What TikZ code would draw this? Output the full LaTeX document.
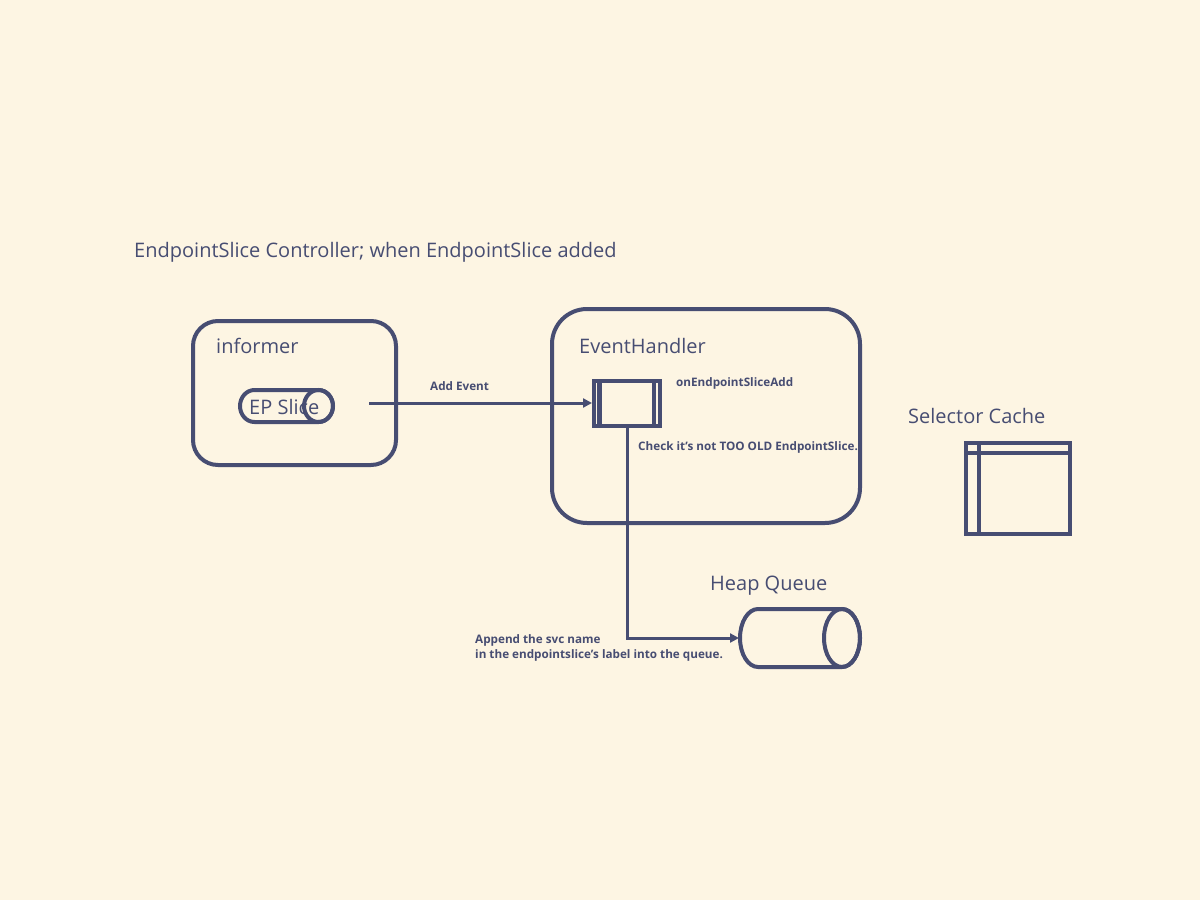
\documentclass[tikz,border=0pt]{standalone}
\usepackage{fontspec}
\setmainfont{Open Sans}
\usetikzlibrary{arrows.meta}
\definecolor{bg}{HTML}{FDF5E3}
\definecolor{ink}{HTML}{474D72}
\tikzset{
  frame/.style={draw=ink, line width=4pt, rounded corners=#1},
  big/.style={text=ink, inner sep=0pt, font=\fontsize{20}{24}\selectfont},
  small/.style={text=ink, inner sep=0pt, font=\fontsize{11.7}{15}\selectfont\bfseries},
  flow/.style={draw=ink, line width=3pt, -{Triangle[length=9pt,width=9pt]}},
  thick4/.style={draw=ink, line width=4pt},
}
\begin{document}
\begin{tikzpicture}[x=1pt,y=-1pt]
\useasboundingbox (0,0) rectangle (1200,900);
\fill[bg] (0,0) rectangle (1200,900);

\node[big, anchor=base west] (title) at (134,257) {EndpointSlice Controller; when EndpointSlice added};

% informer
\draw[frame=25] (193,321) rectangle (396,465);
\node[big, anchor=base west] (informer) at (216,353) {informer};
\draw[thick4] (254.5,390) -- (318.5,390) arc[start angle=-90, end angle=90, x radius=14.5, y radius=16] -- (254.5,422) arc[start angle=90, end angle=270, x radius=14.5, y radius=16] -- cycle;
\draw[thick4] (318.5,406) ellipse[x radius=14.5, y radius=16];
\node[big, anchor=base west] (epslice) at (249,414) {EP Slice};
\coordinate (addstart) at (369,403);

% EventHandler
\draw[frame=35] (552,309) rectangle (860,523);
\node[big, anchor=base west] (eh) at (579,353) {EventHandler};
\node[thick4, rectangle, minimum width=66pt, minimum height=45pt, inner sep=0pt] (handler) at (627,403.5) {};
\draw[draw=ink, line width=4.5pt] ([xshift=7.5pt]handler.north west) -- ([xshift=7.5pt]handler.south west);
\draw[draw=ink, line width=4.5pt] ([xshift=-8pt]handler.north east) -- ([xshift=-8pt]handler.south east);
\node[small, anchor=base west] (onadd) at (676,386) {onEndpointSliceAdd};
\node[small, anchor=base west] (check) at (638,450) {Check it’s not TOO OLD EndpointSlice.};

\draw[flow] (addstart) -- (addstart -| handler.west);
\node[small, anchor=base west] (addev) at (430,390) {Add Event};

% Heap Queue
\node[big, anchor=base west] (hq) at (710,590) {Heap Queue};
\draw[thick4] (758,609) -- (842,609) arc[start angle=-90, end angle=90, x radius=18, y radius=29] -- (758,667) arc[start angle=90, end angle=270, x radius=18, y radius=29] -- cycle;
\draw[thick4] (842,638) ellipse[x radius=18, y radius=29];
\coordinate (queue) at (739,638);
\draw[flow] (handler.south) |- (queue);
\node[small, anchor=base west] (ap1) at (475,643) {Append the svc name};
\node[small, anchor=base west] (ap2) at (475,658) {in the endpointslice’s label into the queue.};

% Selector Cache
\node[big, anchor=base west] (sc) at (908,423) {Selector Cache};
\draw[thick4] (966,443) rectangle (1070,534);
\draw[thick4] (966,453) -- (1070,453);
\draw[thick4] (979,443) -- (979,534);
\end{tikzpicture}
\end{document}
